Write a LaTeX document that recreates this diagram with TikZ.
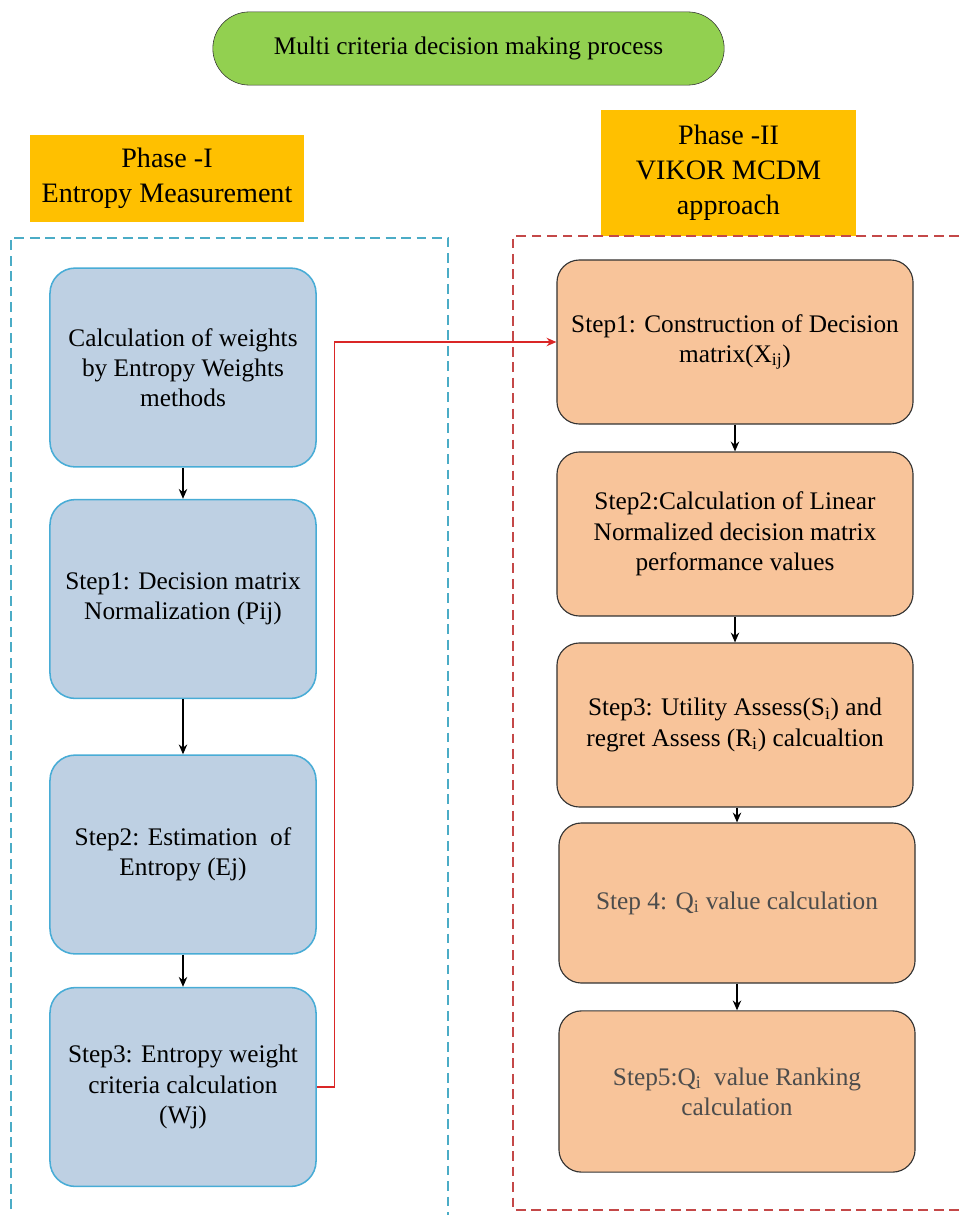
\documentclass[tikz,border=0pt]{standalone}
\usepackage{fontspec}
\setmainfont{Liberation Serif}
\usetikzlibrary{shapes}
\usetikzlibrary{arrows.meta}
\definecolor{pillgreen}{RGB}{146,208,80}
\definecolor{labelorange}{RGB}{255,192,0}
\definecolor{stepblue}{RGB}{190,208,227}
\definecolor{edgeblue}{RGB}{72,172,214}
\definecolor{steppeach}{RGB}{248,196,154}
\definecolor{frameblue}{RGB}{75,172,198}
\definecolor{framered}{RGB}{196,72,72}
\definecolor{linkred}{RGB}{218,38,38}
\tikzset{
  box_text/.style = {align=center, inner sep=0pt,
    font=\rmfamily\fontsize{18}{21.5}\selectfont},
  title_pill/.style = {box_text, rounded rectangle, draw=black!80,
    fill=pillgreen, minimum width=12.78cm, minimum height=1.83cm},% titre
  phase_label/.style = {box_text, rectangle, fill=labelorange,
    font=\rmfamily\fontsize{20}{25}\selectfont},% etiquette de phase
  blue_step/.style = {box_text, rectangle, rounded corners=18pt,
    draw=edgeblue, fill=stepblue, line width=1.1pt,
    minimum width=6.65cm, minimum height=4.97cm},% phase I
  peach_step/.style = {box_text, rectangle, rounded corners=16pt,
    draw=black!80, fill=steppeach, line width=0.8pt,
    minimum width=8.9cm, minimum height=4.1cm},% phase II
  frame_line/.style = {line width=1.1pt, dash pattern=on 7pt off 4pt},
  flow_arrow/.style = {-{Stealth[length=7pt, width=6pt]}, black, line width=0.9pt},
  red_link/.style = {-{Stealth[length=7pt, width=6pt]}, linkred, line width=0.9pt}
}

\begin{document}
\begin{tikzpicture}[x=0.025cm, y=-0.025cm]
    \useasboundingbox (0,0) rectangle (959,1215);
    \clip (0,0) rectangle (959,1215);
    \node [title_pill] (title) at (468.5,48.5) {Multi criteria decision making process};

    % phase I
    \node [phase_label, minimum width=6.85cm, minimum height=2.18cm] (phase_one)
      at (167,178.5) {Phase -I\\Entropy Measurement};
    \draw [frame_line, frameblue] (11,1240) -- (11,238) -- (448,238) -- (448,1240);
    \node [blue_step] (b1) at (183,367.5) {Calculation of weights\\by Entropy Weights\\methods};
    \node [blue_step] (b2) at (183,599) {Step1: Decision matrix\\Normalization (Pij)};
    \node [blue_step] (b3) at (183,854.5) {Step2: Estimation~ of\\Entropy (Ej)};
    \node [blue_step] (b4) at (183,1087) {Step3: Entropy weight\\criteria calculation\\(Wj)};

    % phase II
    \node [phase_label, minimum width=6.38cm, minimum height=3.15cm] (phase_two)
      at (728.5,173) {Phase -II\\VIKOR MCDM\\approach};
    \draw [frame_line, framered] (990,236) -- (513,236) -- (513,1210) -- (990,1210);
    \node [peach_step] (s1) at (735,342) {Step1: Construction of Decision\\matrix(X\textsubscript{ij})};
    \node [peach_step] (s2) at (735,534) {Step2:Calculation of Linear\\Normalized decision matrix\\performance values};
    \node [peach_step] (s3) at (735,725) {Step3: Utility Assess(S\textsubscript{i}) and\\regret Assess (R\textsubscript{i}) calcualtion};
    \node [peach_step, minimum height=4.0cm, text=black!70] (s4) at (737,903) {Step 4: Q\textsubscript{i} value calculation};
    \node [peach_step, minimum height=4.03cm, text=black!70] (s5) at (737,1091.5) {Step5:Q\textsubscript{i}~ value Ranking\\calculation};

    \draw [flow_arrow] (b1) -- (b2);
    \draw [flow_arrow] (b2) -- (b3);
    \draw [flow_arrow] (b3) -- (b4);
    \draw [flow_arrow] (s1) -- (s2);
    \draw [flow_arrow] (s2) -- (s3);
    \draw [flow_arrow] (s3.south -| s4.north) -- (s4.north);
    \draw [flow_arrow] (s4) -- (s5);
    \draw [red_link] (b4.east) -- ++(18,0) |- (s1.west);
\end{tikzpicture}
\end{document}
